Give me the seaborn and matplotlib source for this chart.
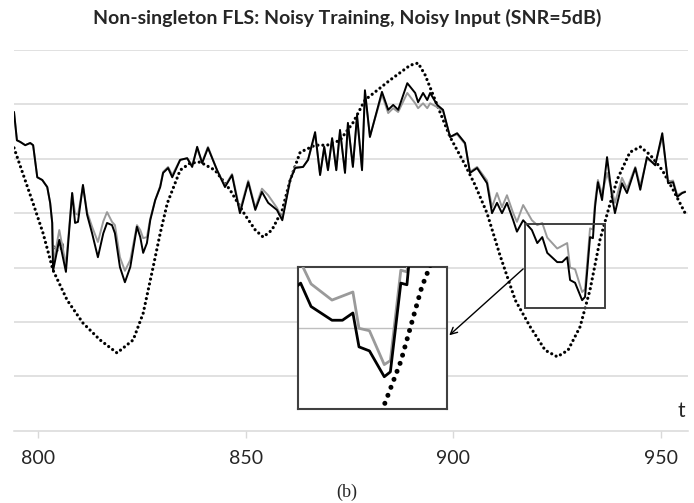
import matplotlib
matplotlib.use("Agg")
import matplotlib.pyplot as plt
import seaborn as sns
import pandas as pd
from matplotlib.patches import Rectangle

# --- data (t axis, arbitrary y units, gridlines at 1..7) ---
t_true = [794.2, 798.8, 801.2, 803.6, 807.0, 810.8, 814.9, 819.0, 822.9, 825.3,
          827.7, 829.4, 831.1, 834.2, 836.6, 839.0, 842.6, 846.2, 849.8, 852.3,
          854.2, 856.3, 858.8, 860.7, 863.1, 866.7, 869.6, 872.7, 875.8, 878.7,
          884.8, 889.6, 891.5, 893.2, 895.6, 899.2, 902.8, 905.2, 908.1, 911.2,
          914.9, 918.5, 922.1, 925.0, 927.6, 930.5, 932.9, 935.3, 937.3, 939.4,
          942.5, 945.0, 947.4, 950.3, 952.9, 955.8]
y_true = [5.20, 4.18, 3.63, 2.95, 2.40, 1.98, 1.67, 1.43, 1.67, 2.16,
          3.01, 3.63, 4.18, 4.79, 4.92, 4.94, 4.79, 4.43, 3.97, 3.69,
          3.56, 3.69, 4.06, 4.61, 5.12, 5.25, 5.25, 5.34, 5.66, 6.08,
          6.45, 6.72, 6.76, 6.54, 6.08, 5.40, 4.89, 4.52, 4.00, 3.23,
          2.40, 1.91, 1.48, 1.36, 1.48, 1.91, 2.59, 3.51, 4.06, 4.61,
          5.12, 5.22, 5.07, 4.79, 4.43, 4.00]

t_fls = [794.2, 794.9, 795.7, 796.9, 798.1, 798.8, 799.8, 801.0, 802.2, 802.9,
         803.4, 803.6, 805.1, 806.7, 808.2, 808.9, 809.6, 810.8, 811.8, 813.0,
         814.4, 815.7, 816.6, 817.8, 818.5, 819.7, 820.9, 822.2, 823.8, 824.6,
         825.3, 826.2, 827.0, 828.2, 829.4, 830.1, 831.3, 832.3, 834.2, 835.9,
         837.1, 838.3, 839.5, 840.9, 843.1, 845.0, 846.7, 848.6, 850.6, 852.3,
         853.9, 855.4, 857.5, 858.8, 860.7, 861.9, 863.8, 865.0, 866.7, 867.9,
         868.9, 869.8, 870.8, 871.8, 872.7, 873.9, 874.6, 875.8, 876.8, 878.0,
         878.7, 879.9, 882.8, 884.3, 885.5, 886.7, 888.9, 890.8, 891.5, 892.7,
         893.7, 894.4, 896.1, 897.5, 899.2, 900.9, 902.8, 904.0, 905.7, 908.1,
         909.3, 910.5, 911.7, 912.9, 914.4, 915.3, 916.8, 918.9, 920.2, 921.4,
         922.6, 925.0, 926.2, 927.4, 928.1, 929.3, 931.0, 931.7, 932.9, 933.6,
         934.1, 934.8, 935.8, 937.0, 938.2, 938.9, 940.6, 941.8, 943.8, 945.0,
         946.6, 948.6, 950.3, 951.7, 952.9, 953.9, 955.1, 955.8]
# black: FLS output
y_black = [5.86, 5.34, 5.31, 5.25, 5.29, 5.25, 4.66, 4.61, 4.48, 4.19,
           3.82, 2.94, 3.51, 2.92, 4.37, 3.82, 3.84, 4.52, 3.97, 3.63,
           3.19, 3.63, 3.82, 3.78, 3.63, 3.01, 2.73, 3.01, 3.75, 3.56,
           3.27, 3.45, 3.87, 4.24, 4.48, 4.74, 4.83, 4.66, 4.98, 5.01,
           4.85, 5.22, 4.92, 5.20, 4.79, 4.48, 4.70, 4.00, 4.57, 4.06,
           4.39, 4.19, 4.06, 3.87, 4.61, 4.83, 4.85, 4.98, 5.49, 4.70,
           5.22, 4.79, 5.38, 4.79, 5.53, 4.74, 5.66, 4.85, 5.80, 4.79,
           6.26, 5.40, 6.23, 5.90, 5.99, 5.90, 6.39, 6.21, 6.04, 6.21,
           6.08, 6.21, 5.99, 5.90, 5.40, 5.47, 5.29, 4.74, 4.83, 4.55,
           4.00, 4.19, 4.00, 4.19, 3.87, 3.66, 3.87, 3.69, 3.45, 3.56,
           3.27, 3.10, 3.10, 3.19, 2.77, 2.72, 2.40, 2.46, 3.56, 3.54,
           4.11, 4.57, 4.24, 5.03, 4.30, 4.00, 4.55, 4.37, 4.83, 4.43,
           5.03, 4.88, 5.47, 4.55, 4.57, 4.30, 4.37, 4.39]
# gray: second FLS output
y_gray = [5.86, 5.34, 5.31, 5.25, 5.29, 5.25, 4.66, 4.61, 4.48, 4.19,
          3.82, 3.05, 3.69, 3.05, 4.37, 4.00, 3.97, 4.50, 4.02, 3.75,
          3.47, 3.85, 4.02, 3.84, 3.78, 3.19, 2.94, 3.14, 3.78, 3.69,
          3.54, 3.56, 3.90, 4.24, 4.50, 4.76, 4.85, 4.70, 4.98, 5.01,
          4.88, 5.18, 4.94, 5.22, 4.79, 4.50, 4.72, 4.05, 4.60, 4.10,
          4.45, 4.33, 4.10, 3.90, 4.63, 4.85, 4.85, 4.98, 5.45, 4.72,
          5.20, 4.80, 5.36, 4.80, 5.50, 4.76, 5.63, 4.87, 5.77, 4.81,
          6.22, 5.42, 6.18, 5.84, 5.93, 5.86, 6.21, 6.02, 5.93, 6.02,
          5.93, 6.02, 5.95, 5.88, 5.40, 5.45, 5.27, 4.76, 4.85, 4.60,
          4.11, 4.37, 4.11, 4.33, 4.00, 3.84, 4.15, 3.87, 3.78, 3.82,
          3.55, 3.35, 3.40, 3.45, 3.00, 2.97, 2.55, 2.60, 3.72, 3.70,
          4.20, 4.61, 4.35, 4.74, 4.40, 4.19, 4.65, 4.45, 4.85, 4.50,
          5.00, 4.90, 5.40, 4.58, 4.60, 4.33, 4.38, 4.40]

x_ticks = [800, 850, 900, 950]
zoom_t = (917.3, 936.5)      # small box on main chart
zoom_y = (2.26, 3.80)
inset_t = (921.1, 938.2)     # view of the magnified inset
inset_y = (2.00, 3.76)

df_fls = pd.DataFrame({"t": t_fls, "black": y_black, "gray": y_gray})
df_true = pd.DataFrame({"t": t_true, "y": y_true})

sns.set_theme(style="white")
plt.rcParams["font.family"] = ["Lato", "DejaVu Sans"]

fig = plt.figure(figsize=(6.94, 5.03), dpi=100)
ax = fig.add_axes([0.0202, 0.1437, 0.9712, 0.7569])

grid_c = "#d9d9d9"


def draw_series(a, lw_line, lw_dot, gap):
    sns.lineplot(data=df_true, x="t", y="y", ax=a, color="black", lw=lw_dot,
                 linestyle=(0, (0.01, gap)), dash_capstyle="round", sort=False, zorder=3)
    sns.lineplot(data=df_fls, x="t", y="gray", ax=a, color="#9a9a9a", lw=lw_line,
                 solid_joinstyle="round", sort=False, zorder=4)
    sns.lineplot(data=df_fls, x="t", y="black", ax=a, color="black", lw=lw_line,
                 solid_joinstyle="round", sort=False, zorder=5)


draw_series(ax, 1.4, 2.3, 1.55)

ax.set_xlim(794.2, 956.5)
ax.set_ylim(0, 7)
ax.set_yticks(range(1, 8))
ax.yaxis.grid(True, color=grid_c, lw=1.1)
ax.set_axisbelow(True)
ax.set_yticklabels([])
ax.tick_params(axis="y", length=0)
ax.set_xticks(x_ticks)
ax.tick_params(axis="x", direction="out", length=5, width=1, color=grid_c,
               labelsize=14, pad=9, bottom=True)
for s in ["top", "right", "left"]:
    ax.spines[s].set_visible(False)
ax.spines["bottom"].set_color(grid_c)
ax.spines["bottom"].set_linewidth(1.1)
ax.set_xlabel("")
ax.set_ylabel("")

ax.text(955.8, 0.18, "t", fontsize=15, ha="right", va="bottom")
ax.text(803.6, 3.38, "x(t)", fontsize=6.5, ha="left", va="center", color="#333333")

ax.add_patch(Rectangle((zoom_t[0], zoom_y[0]), zoom_t[1] - zoom_t[0], zoom_y[1] - zoom_y[0],
                       fill=False, edgecolor="#404040", lw=1.4, zorder=6))
ax.annotate("", xy=(898.5, 1.72), xytext=(zoom_t[0], 3.01),
            arrowprops=dict(arrowstyle="->", color="black", lw=1.0), zorder=6)

fig.suptitle("Non-singleton FLS: Noisy Training, Noisy Input (SNR=5dB)",
             fontsize=14, fontweight="bold", y=0.983)
fig.text(0.5, 0.012, "(b)", fontsize=13, ha="center", family="Liberation Serif")

# magnified inset
ins = fig.add_axes([0.4294, 0.1869, 0.2147, 0.2823])
ins.set_facecolor("white")
draw_series(ins, 2.0, 3.6, 1.7)
ins.set_xlim(*inset_t)
ins.set_ylim(*inset_y)
ins.set_xticks([])
ins.set_yticks([3])
ins.set_yticklabels([])
ins.tick_params(axis="y", length=0)
ins.yaxis.grid(True, color="#bfbfbf", lw=1.0)
ins.set_axisbelow(True)
ins.set_xlabel("")
ins.set_ylabel("")
for s in ins.spines.values():
    s.set_visible(True)
    s.set_color("#404040")
    s.set_linewidth(1.5)

fig.savefig("out.png", dpi=100)
